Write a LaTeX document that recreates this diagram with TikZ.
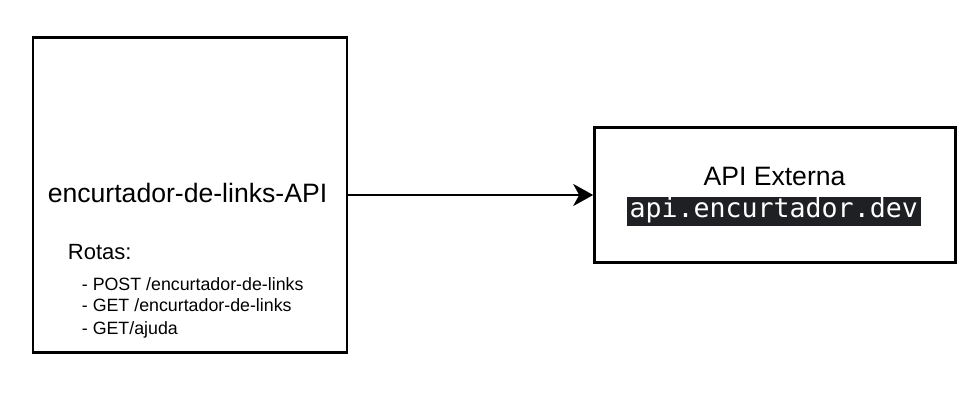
\documentclass[tikz,border=0pt]{standalone}
\usepackage{fontspec}
\setmainfont{Liberation Sans}
\newfontfamily\monofont{DejaVu Sans Mono}
\usetikzlibrary{arrows.meta}
\definecolor{fundo}{HTML}{1F2023}

\begin{document}
\begin{tikzpicture}[x=1pt, y=-1pt,
        caixa/.style={draw, line width=2.6pt, inner sep=0pt},
        titulo/.style={anchor=base, inner sep=0pt, font=\fontsize{26.6}{30}\selectfont},
        rota/.style={anchor=base west, inner sep=0pt, font=\fontsize{17.8}{20}\selectfont}]
        \useasboundingbox (0,0) rectangle (974,411);
        \node[caixa, minimum width=314pt, minimum height=315pt] (API) at (190,195) {};
        \node[caixa, minimum width=361pt, minimum height=135pt] (EXT) at (775,195) {};
        \node[titulo] (NOME) at (187.5,203) {encurtador-de-links-API};
        \node[rota, font=\fontsize{22}{24}\selectfont] (ROTAS) at (67.7,260) {Rotas:};
        \node[rota] (R1) at (81.7,291) {- POST /encurtador-de-links};
        \node[rota] (R2) at (81.7,312) {- GET /encurtador-de-links};
        \node[rota] (R3) at (81.7,335) {- GET/ajuda};
        \node[titulo] (EXTNOME) at (774.5,186) {API Externa};
        \node[fill=fundo, text=white, inner xsep=3pt, inner ysep=0pt, text height=21pt, text depth=8pt,
            font=\monofont\fontsize{26.6}{30}\selectfont] (URL) at (773.7,211.4) {api.encurtador.dev};
        \draw[-{Stealth[length=20pt, width=22pt, inset=6pt]}, line width=2.6pt] (API.east) -- (EXT.west);
    \end{tikzpicture}
\end{document}
